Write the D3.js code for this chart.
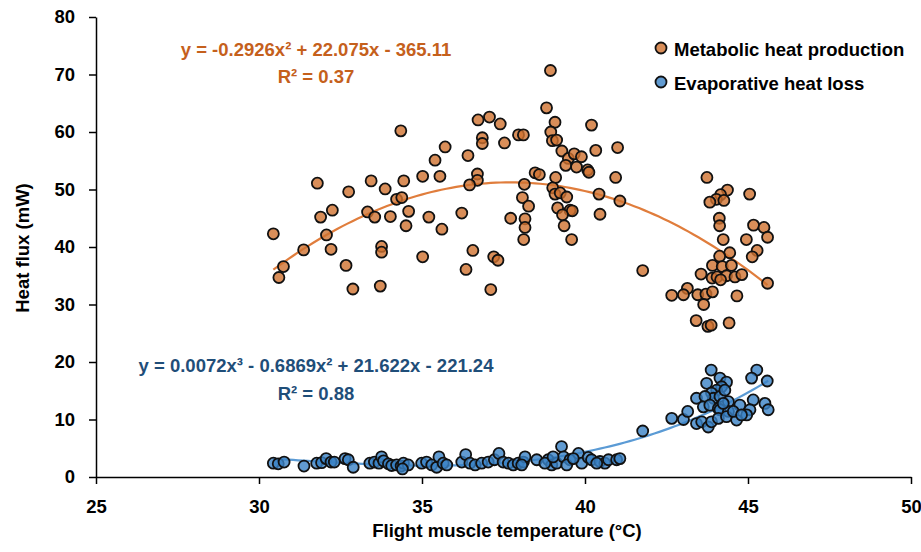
<!DOCTYPE html>
<html>
<head>
	<title>Heat flux vs flight muscle temperature</title>
	<meta charset="utf-8">
	<script src="https://cdn.jsdelivr.net/npm/d3@7"></script>
</head>
<style type="text/css">
body
{
	margin: 0;
	background-color: #ffffff;
}
text
{
	font-family: "Liberation Sans", Arial, sans-serif;
	font-weight: bold;
}
.axis path, .axis line
{
	stroke: #000;
	stroke-width: 1.5px;
}
.axis text
{
	font-size: 18.5px;
	fill: #000;
}
</style>
<body>

</body>
</html>
<script type="text/javascript">
	var w = 921;
	var h = 552;

	// data
	var metabolicTemp = [34.35,31.79,32.75,33.44,33.87,34.44,35.02,34.22,34.38,32.25,31.89,33.33,33.55,34.03,34.59,34.51,30.44,32.07,31.37,32.21,33.76,33.76,35.02,30.75,30.61,32.67,32.88,33.72,
		38.94,38.82,39.08,36.72,37.07,37.40,36.85,36.85,37.53,37.96,38.11,38.95,39.00,39.13,40.20,40.33,39.29,39.49,39.67,39.89,39.41,39.74,40.08,40.12,35.71,35.40,36.41,35.55,36.70,36.70,36.46,38.47,38.60,39.10,38.14,39.01,39.08,39.24,39.44,40.43,38.08,38.27,39.16,39.54,39.61,39.31,39.36,40.46,35.21,36.22,37.72,38.16,38.16,38.12,39.59,35.61,36.56,37.20,37.33,36.35,37.11,
		41.00,40.94,41.07,41.77,
		43.74,44.37,44.16,44.03,44.26,43.83,45.05,44.12,44.13,45.17,45.49,45.60,44.24,44.95,45.28,45.13,44.44,44.13,43.91,44.21,44.49,43.56,43.90,44.05,44.34,44.60,44.81,44.16,45.60,43.14,42.66,43.02,43.46,43.71,43.91,44.66,43.64,43.41,44.42,43.77,43.87];
	var metabolicFlux = [60.2,51.1,49.6,51.5,50.1,51.5,52.3,48.3,48.6,46.4,45.2,46.1,45.2,45.3,46.2,43.7,42.3,42.1,39.5,39.6,40.1,39.1,38.3,36.6,34.7,36.8,32.7,33.2,
		70.7,64.2,61.7,62.1,62.6,61.4,59.0,58.0,58.1,59.5,59.5,60.0,58.5,58.6,61.2,56.8,56.7,55.4,56.2,55.7,54.2,53.9,53.4,53.0,57.4,55.1,55.9,52.3,52.7,51.6,50.8,52.9,52.6,52.1,50.9,50.3,49.2,49.4,48.7,49.2,48.6,47.1,46.8,46.4,46.3,45.6,43.7,45.7,45.2,45.9,45.0,44.9,43.4,41.3,41.3,43.1,39.4,38.3,37.7,36.1,32.6,
		57.3,52.1,48.0,35.9,
		52.1,49.9,49.1,48.3,48.1,47.8,49.2,45.0,43.7,43.8,43.4,41.7,41.3,41.3,39.4,38.3,39.0,38.4,36.8,36.6,36.8,35.3,34.6,34.8,35.0,34.8,35.2,34.3,33.7,32.8,31.6,31.7,31.7,31.8,32.2,31.5,30.0,27.2,26.8,26.2,26.4];

	var evapTemp = [30.44,30.59,30.77,31.38,31.77,31.92,32.06,32.21,32.31,32.64,32.74,32.89,33.40,33.54,33.68,33.76,33.82,33.97,34.07,34.22,34.36,34.43,34.58,34.40,34.99,35.14,35.30,35.45,35.52,35.65,35.76,
		36.22,36.34,36.47,36.63,36.83,37.03,37.22,37.36,37.49,37.65,37.80,37.95,38.11,38.16,38.06,38.52,38.87,38.98,39.13,39.28,39.34,39.54,39.80,39.90,40.10,40.20,40.46,40.61,40.72,40.97,41.07,38.77,39.02,39.44,39.64,40.36,
		41.77,42.66,43.02,43.15,
		43.87,44.14,44.34,44.19,44.04,43.73,43.88,43.94,44.14,44.29,43.42,43.68,43.63,43.83,44.09,44.40,44.14,44.40,44.75,45.16,45.06,45.52,45.62,45.27,45.11,45.59,43.42,43.58,43.78,43.88,44.09,44.34,44.65,44.55,44.96,44.80,44.24];
	var evapFlux = [2.4,2.3,2.6,1.9,2.4,2.5,3.2,2.6,2.6,3.2,3.0,1.7,2.4,2.6,2.4,3.5,2.8,2.3,2.0,2.1,1.9,2.4,2.1,1.4,2.4,2.6,2.1,1.7,3.5,2.4,2.1,
		2.6,3.9,2.4,2.1,2.4,2.6,3.0,4.1,2.6,2.4,2.1,2.4,2.6,3.5,2.1,3.0,3.0,2.1,2.4,5.3,3.5,3.0,4.1,2.4,3.4,3.0,2.7,2.4,3.0,3.0,3.2,2.4,3.5,2.1,3.2,2.4,
		8.0,10.2,10.0,11.4,
		18.6,17.2,16.5,15.7,15.1,16.3,14.6,13.7,14.0,15.1,13.7,14.0,12.2,12.5,11.9,13.1,11.7,11.4,12.5,13.4,11.7,12.8,11.7,18.6,17.2,16.7,9.3,9.6,8.7,9.6,10.2,10.5,9.9,11.4,10.8,10.8,12.8];

	var seriesNames = ["Metabolic heat production", "Evaporative heat loss"];
	var xTicks = [25, 30, 35, 40, 45, 50];
	var yTicks = [0, 10, 20, 30, 40, 50, 60, 70, 80];
	var metabolicEq = ["y = -0.2926x\u00B2 + 22.075x - 365.11", "R\u00B2 = 0.37"];
	var evapEq = ["y = 0.0072x\u00B3 - 0.6869x\u00B2 + 21.622x - 221.24", "R\u00B2 = 0.88"];

	var orange = "#d0722f", orangeLine = "#e07d3c", orangeText = "#c5601c";
	var blue = "#3a82c5", blueLine = "#5b9bd5", blueText = "#1f4e79";

	var svg = d3.select("body").append("svg").attr("width", w).attr("height", h);

	var xscale = d3.scaleLinear().domain([25, 50]).range([96, 911]);
	var yscale = d3.scaleLinear().domain([0, 80]).range([477, 17]);

	var xaxis = d3.axisBottom(xscale).tickValues(xTicks).tickSize(7).tickSizeOuter(0).tickPadding(16);
	var yaxis = d3.axisLeft(yscale).tickValues(yTicks).tickSize(7).tickSizeOuter(0).tickPadding(14);

	svg.append("g").attr("class", "axis").attr("transform", "translate(0,477)").call(xaxis);
	svg.append("g").attr("class", "axis").attr("transform", "translate(96,0)").call(yaxis);

	// least squares polynomial fit (x centred to keep it stable)
	function polyFit(xs, ys, deg) {
		var m = d3.mean(xs);
		var n = deg + 1;
		var A = [];
		for (var i = 0; i < n; i++) { A.push(new Array(n + 1).fill(0)); }
		xs.forEach(function(x, k) {
			var t = x - m;
			for (var i = 0; i < n; i++) {
				for (var j = 0; j < n; j++) A[i][j] += Math.pow(t, i + j);
				A[i][n] += ys[k] * Math.pow(t, i);
			}
		});
		for (var c = 0; c < n; c++) {
			var p = c;
			for (var r = c + 1; r < n; r++) if (Math.abs(A[r][c]) > Math.abs(A[p][c])) p = r;
			var tmp = A[c]; A[c] = A[p]; A[p] = tmp;
			for (var r = 0; r < n; r++) {
				if (r == c) continue;
				var f = A[r][c] / A[c][c];
				for (var j = c; j <= n; j++) A[r][j] -= f * A[c][j];
			}
		}
		var coef = A.map(function(row, i) { return row[n] / row[i]; });
		return function(x) {
			var t = x - m, s = 0;
			for (var i = 0; i < n; i++) s += coef[i] * Math.pow(t, i);
			return s;
		};
	}

	function trend(xs, ys, deg, color) {
		var f = polyFit(xs, ys, deg);
		var ext = d3.extent(xs);
		var pts = d3.range(0, 101).map(function(i) { return ext[0] + (ext[1] - ext[0]) * i / 100; });
		var line = d3.line().x(function(d) { return xscale(d); }).y(function(d) { return yscale(f(d)); });
		svg.append("path").datum(pts).attr("d", line)
			.attr("fill", "none").attr("stroke", color).attr("stroke-width", 2.2);
	}

	function dots(xs, ys, color) {
		svg.append("g").selectAll("circle").data(xs).enter().append("circle")
			.attr("cx", function(d) { return xscale(d); })
			.attr("cy", function(d, i) { return yscale(ys[i]); })
			.attr("r", 5.5)
			.attr("fill", color)
			.attr("fill-opacity", 0.8)
			.attr("stroke", "#111")
			.attr("stroke-width", 1.8);
	}

	trend(metabolicTemp, metabolicFlux, 2, orangeLine);
	trend(evapTemp, evapFlux, 3, blueLine);
	dots(metabolicTemp, metabolicFlux, orange);
	dots(evapTemp, evapFlux, blue);

	// equations
	svg.append("g").selectAll("text").data(metabolicEq).enter().append("text")
		.attr("x", 316).attr("y", function(d, i) { return 56 + i * 27; })
		.attr("text-anchor", "middle").attr("font-size", "18.5px").attr("fill", orangeText)
		.text(function(d) { return d; });
	svg.append("g").selectAll("text").data(evapEq).enter().append("text")
		.attr("x", 316).attr("y", function(d, i) { return 372 + i * 28; })
		.attr("text-anchor", "middle").attr("font-size", "18.5px").attr("fill", blueText)
		.text(function(d) { return d; });

	// legend
	var legend = svg.append("g").selectAll("g").data(seriesNames).enter().append("g")
		.attr("transform", function(d, i) { return "translate(661," + (48 + i * 34) + ")"; });
	legend.append("circle").attr("r", 5.5)
		.attr("fill", function(d, i) { return i == 0 ? orange : blue; })
		.attr("fill-opacity", 0.8).attr("stroke", "#111").attr("stroke-width", 1.8);
	legend.append("text").attr("x", 13).attr("y", 8).attr("font-size", "18.5px").attr("fill", "#000")
		.text(function(d) { return d; });

	// axis titles
	svg.append("text").attr("x", 507).attr("y", 537).attr("text-anchor", "middle")
		.attr("font-size", "18.5px").text("Flight muscle temperature (°C)");
	svg.append("text").attr("transform", "translate(29,248) rotate(-90)").attr("text-anchor", "middle")
		.attr("font-size", "18.5px").text("Heat flux (mW)");
</script>
